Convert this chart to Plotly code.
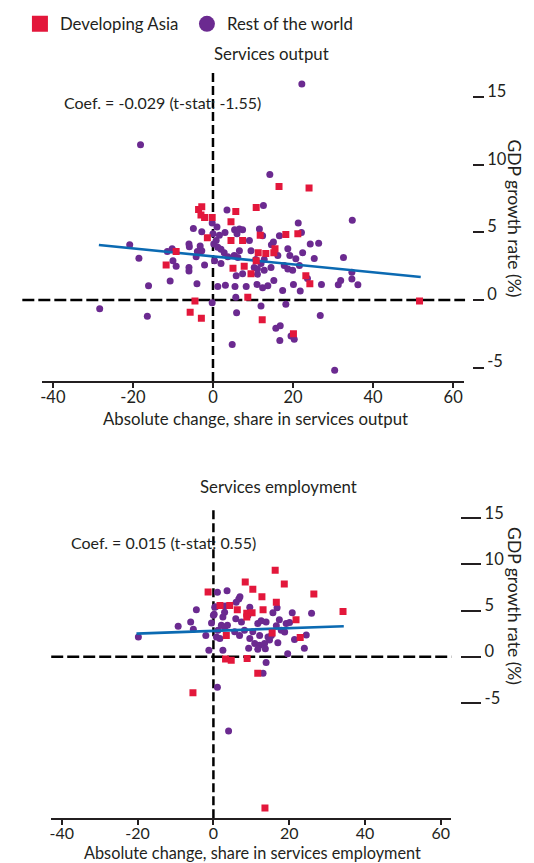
import plotly.graph_objects as go

# ---------------- data: Services output (top panel) ----------------
asia_out_x = [-3.6, -2.8, -3.0, -2.1, -0.2, 5.7, 10.8, 4.5, -1.4, 4.5, 7.4, 11.8, -9.2, -11.7, 5.0,
              7.8, 9.5, 10.8, 11.3, 13.2, 15.2, 15.5, 8.7, -4.5, -5.7, -2.9, 12.3, 20.1, 51.6, 16.5,
              24.0, 18.2, 21.2, 23.2, 24.2]
asia_out_y = [6.7, 6.9, 6.3, 6.1, 6.1, 6.55, 6.85, 5.8, 4.6, 4.4, 4.4, 4.8, 3.6, 2.6, 2.35,
              2.5, 1.95, 2.9, 3.5, 3.45, 3.5, 3.8, 0.2, -0.07, -0.9, -1.35, -1.47, -2.5, -0.07, 8.4,
              8.3, 4.85, 4.9, 1.8, 1.2]

rest_out_x = [-18.1, 22.2, 14.2, 12.6, 21.3, 34.8, 3.5, -4.9, -2.8, -0.2, 1.0, 0.0, 1.6, 3.0, 5.4,
              6.6, 7.4, 6.0, 9.1, 11.6, -20.8, -18.5, -10.2, -11.4, -6.0, -5.9, -3.2, -2.8, -4.2, -3.9,
              -10.0, -9.2, -6.0, -6.0, -2.1, 0.2, 1.2, 2.0, 2.8, 0.8, 0.4, 2.0, 3.7, 5.3, 6.6,
              6.2, 5.8, 7.4, 10.3, 11.1, 9.5, 10.7, -10.7, -16.1, -4.0, 1.2, 3.1, 5.5, 8.3, 11.0,
              5.7, -0.2, -28.3, -16.4, 5.9, 4.8, 12.4, 16.6, 22.1, 15.1, 14.6, 24.3, 26.4, 18.7, 22.4,
              19.2, 16.2, 20.7, 25.3, 32.6, 12.8, 12.0, 11.1, 12.8, 14.5, 17.8, 18.7, 19.9, 21.6,
              15.2, 12.4, 13.7, 17.4, 20.1, 21.8, 23.6, 27.1, 31.3, 31.9, 34.7, 34.7, 36.2, 12.0,
              18.2, 26.8, 15.7, 16.8, 16.7, 19.5, 20.3, 30.4]
rest_out_y = [11.5, 16.0, 9.3, 7.0, 5.7, 5.9, 6.67, 5.3, 5.05, 5.7, 5.4, 4.9, 4.8, 5.0, 5.2,
              5.25, 5.2, 4.9, 4.4, 5.25, 4.1, 3.1, 3.8, 3.6, 4.15, 3.95, 4.0, 3.65, 3.2, 3.6,
              2.9, 2.5, 2.4, 2.15, 2.6, 4.15, 3.9, 3.75, 3.5, 4.4, 2.9, 2.7, 3.2, 3.3, 3.65,
              3.15, 1.8, 1.95, 2.4, 1.9, 3.65, 3.0, 1.4, 1.05, 1.2, 1.0, 1.1, 1.0, 1.0, 1.15,
              0.2, -0.2, -0.65, -1.2, -0.95, -3.3, 4.75, 4.75, 5.0, 4.3, 4.1, 4.15, 4.2, 3.8, 3.5,
              3.3, 3.3, 3.05, 3.07, 3.14, 3.0, 2.7, 2.3, 2.2, 2.4, 2.55, 2.3, 2.2, 2.55,
              1.45, 0.9, 1.05, 0.7, 1.15, 0.67, 1.6, 1.15, 1.13, 1.45, 2.06, 1.55, 1.13, -0.44,
              -0.31, -1.15, -2.1, -1.9, -3.0, -2.67, -2.9, -5.2]

fit_out_x = [-28.5, 51.9]
fit_out_y = [4.07, 1.7]

# ---------------- data: Services employment (bottom panel) ----------------
asia_emp_x = [-1.4, 8.4, 10.4, 12.8, 1.75, 4.3, 6.3, 8.8, 10.2, 8.8, 13.1, 3.4, 3.2, 4.7, 8.9,
              11.7, -5.4, 16.3, 18.7, 26.5, 16.6, 34.2, 21.8, 15.5, 22.9, 13.6]
asia_emp_y = [7.0, 8.1, 7.3, 6.5, 5.54, 5.54, 5.07, 4.7, 4.75, 4.3, 5.07, 2.3, -0.25, -0.4, -0.2,
              -1.8, -3.9, 9.36, 7.86, 6.8, 5.9, 4.9, 4.0, 2.57, 2.07, -16.4]

rest_emp_x = [-19.8, -9.3, -6.0, -5.3, -4.5, -2.0, -1.2, -0.5, 0.0, 0.35, 1.05, 3.6, 1.2, 0.8, 1.7,
              2.1, 2.95, 3.7, 2.5, 2.95, 3.1, 6.0, 6.7, 7.0, 5.9, 7.4, 5.6, 6.9, 2.5, 9.6,
              9.1, 8.2, 10.4, 9.6, 11.7, 12.6, 13.9, 10.9, 9.3, 12.2, 13.5, 11.7, 13.7, 12.2, 14.4,
              13.9, 13.1, 1.05, 4.0, 15.7, 16.8, 20.8, 25.9, 17.4, 19.2, 20.1, 16.6, 17.9, 18.8,
              15.3, 14.8, 17.0, 21.4, 24.5, 24.0, 19.6, 0.6, 0.2]
rest_emp_y = [2.14, 3.3, 3.75, 2.97, 5.07, 2.3, 0.7, 3.65, 4.5, 5.36, 6.97, 7.15, 2.86, 2.14, 1.96,
              3.4, 3.2, 3.4, 4.3, 4.8, 5.5, 5.9, 6.25, 6.5, 4.1, 3.75, 2.7, 2.3, 0.7, 5.36,
              4.47, 2.86, 2.7, 1.96, 3.6, 3.9, 3.75, 1.43, 0.9, 1.25, 1.43, 0.79, 0.86, 2.3, 2.14,
              -0.64, -1.8, -3.3, -8.05, 4.75, 5.3, 4.75, 4.7, 4.0, 3.6, 3.7, 3.35, 2.86, 2.68,
              2.3, 1.8, 1.5, 1.86, 2.36, 0.9, 0.32, 5.4, 4.6]

fit_emp_x = [-20.3, 34.4]
fit_emp_y = [2.5, 3.3]

x_ticks = [-40, -20, 0, 20, 40, 60]
x_tick_text = ["-40", "-20", "0", "20", "40", "60"]
y_ticks = [-5, 0, 5, 10, 15]
y_tick_text = ["-5", "0", "5", "10", "15"]

RED = "#E3173B"
PURPLE = "#6B2A90"
BLUE = "#0B6AB2"
INK = "#231F20"
FONT = "Lato"

W, H = 534, 863


def px(x):
    return x / W


def py(y):
    return 1 - y / H


fig = go.Figure()

# top panel
fig.add_trace(go.Scatter(x=rest_out_x, y=rest_out_y, mode="markers", xaxis="x", yaxis="y",
                         marker=dict(symbol="circle", size=7, color=PURPLE), showlegend=False))
fig.add_trace(go.Scatter(x=fit_out_x, y=fit_out_y, mode="lines", xaxis="x", yaxis="y",
                         line=dict(color=BLUE, width=2.6), showlegend=False))
fig.add_trace(go.Scatter(x=asia_out_x, y=asia_out_y, mode="markers", xaxis="x", yaxis="y",
                         marker=dict(symbol="square", size=7, color=RED), showlegend=False))
# bottom panel
fig.add_trace(go.Scatter(x=rest_emp_x, y=rest_emp_y, mode="markers", xaxis="x2", yaxis="y2",
                         marker=dict(symbol="circle", size=7, color=PURPLE), showlegend=False))
fig.add_trace(go.Scatter(x=fit_emp_x, y=fit_emp_y, mode="lines", xaxis="x2", yaxis="y2",
                         line=dict(color=BLUE, width=2.6), showlegend=False))
fig.add_trace(go.Scatter(x=asia_emp_x, y=asia_emp_y, mode="markers", xaxis="x2", yaxis="y2",
                         marker=dict(symbol="square", size=7, color=RED), showlegend=False))
# legend entries
fig.add_trace(go.Scatter(x=[None], y=[None], mode="markers", name="Developing Asia",
                         marker=dict(symbol="square", size=16, color=RED)))
fig.add_trace(go.Scatter(x=[None], y=[None], mode="markers", name="Rest of the world",
                         marker=dict(symbol="circle", size=16, color=PURPLE)))

xcommon = dict(tickvals=x_ticks, ticktext=x_tick_text, ticks="outside", ticklen=5, tickwidth=1.5,
               tickcolor=INK, showline=True, linecolor=INK, linewidth=1.5, showgrid=False,
               zeroline=False, ticklabelstandoff=-5)
ycommon = dict(tickvals=y_ticks, ticktext=y_tick_text, ticks="outside", tickwidth=1.5,
               tickcolor=INK, showline=False, showgrid=False, zeroline=False,
               tickfont=dict(size=16.5, color=INK, family=FONT))

fig.update_layout(
    width=W, height=H,
    margin=dict(l=0, r=0, t=0, b=0),
    paper_bgcolor="white", plot_bgcolor="white",
    font=dict(family=FONT, color=INK, size=16),
    xaxis=dict(domain=[px(39.8), px(464.1)], range=[-42.8, 62.8], anchor="y",
               tickfont=dict(size=16.5, color=INK, family=FONT), **xcommon),
    yaxis=dict(domain=[py(378.8), py(66.7)], range=[-6, 17], side="right", anchor="free",
               position=px(471.7), ticklen=11, ticklabelshift=-6, **ycommon),
    yaxis3=dict(range=[-6, 17], overlaying="y", side="left", anchor="free",
                position=px(32.3), ticklen=12, showticklabels=False, **ycommon),
    xaxis2=dict(domain=[px(49.4), px(451.1)], range=[-42.8, 62.8], anchor="y2",
                tickfont=dict(size=16, color=INK, family=FONT), **xcommon),
    yaxis2=dict(domain=[py(818), py(505)], range=[-17.5, 16.25], side="right", anchor="free",
                position=px(460), ticklen=20, ticklabelshift=-5, **ycommon),
    yaxis4=dict(range=[-17.5, 16.25], overlaying="y2", side="left", anchor="free",
                position=px(40.7), ticklen=20, showticklabels=False, **ycommon),
    legend=dict(orientation="h", x=px(18), y=py(20), xanchor="left", yanchor="middle",
                entrywidth=122, font=dict(size=16.8, family=FONT, color=INK),
                bgcolor="rgba(0,0,0,0)", itemclick=False),
)

dash = dict(color="black", width=2.5, dash="12px,4px")
vdash = dict(color="black", width=2.5, dash="9px,4px")
fig.add_shape(type="line", xref="paper", yref="y", x0=px(20.4), x1=px(464.8), y0=0, y1=0,
              line=dash, layer="below")
fig.add_shape(type="line", xref="x", yref="y domain", x0=0, x1=0, y0=0, y1=1,
              line=vdash, layer="below")
fig.add_shape(type="line", xref="x2 domain", yref="y2", x0=0, x1=1, y0=0, y1=0,
              line=dash, layer="below")
fig.add_shape(type="line", xref="x2", yref="y2 domain", x0=0, x1=0, y0=0, y1=1,
              line=vdash, layer="below")


def ann(text, x, y, size=16.8, angle=0):
    fig.add_annotation(text=text, xref="paper", yref="paper", x=px(x), y=py(y),
                       xanchor="center", yanchor="middle", showarrow=False, textangle=angle,
                       font=dict(size=size, family=FONT, color=INK))


ann("Services output", 270.7, 49.4)
ann("Services employment", 277.2, 485)
ann("Coef. = -0.029 (t-stat: -1.55)", 160.7, 99.3, size=16)
ann("Coef. = 0.015 (t-stat: 0.55)", 162, 540.7, size=16)
ann("Absolute change, share in services output", 254, 416.6)
ann("Absolute change, share in services employment", 251.3, 852.5, size=16.3)
ann("GDP growth rate (%)", 514, 215.5, size=17.5, angle=90)
ann("GDP growth rate (%)", 515, 605, size=17.5, angle=90)

fig.write_html("out.html", config={"displayModeBar": False},
               post_script="document.body.style.margin='0px';document.body.style.overflow='hidden';")
